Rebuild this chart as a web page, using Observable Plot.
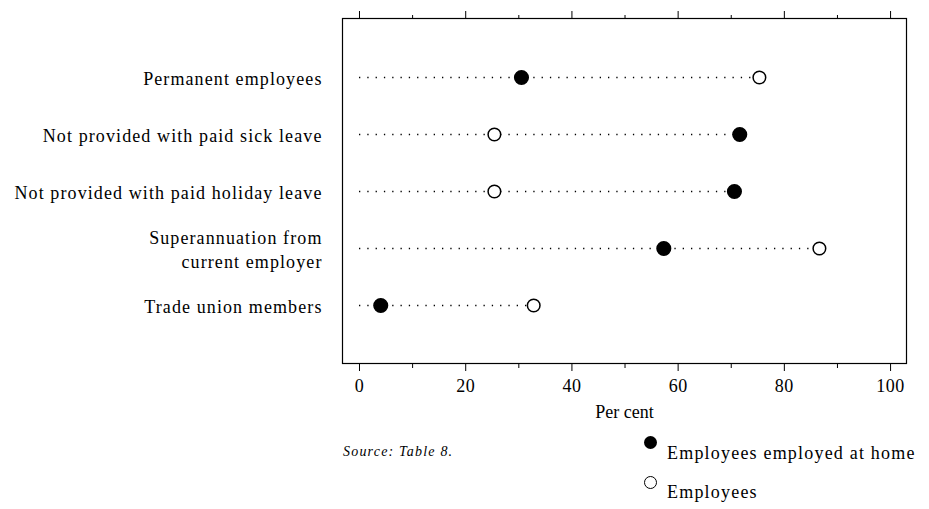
<!DOCTYPE html>
<html>
<head>
<meta charset="utf-8">
<script src="https://cdn.jsdelivr.net/npm/d3@7"></script>
<script src="https://cdn.jsdelivr.net/npm/@observablehq/plot@0.6"></script>
<style>
  html, body { margin: 0; padding: 0; background: #fff; }
  #wrap { position: relative; width: 929px; height: 509px; font-family: "Liberation Serif", "Times New Roman", serif; color: #000; overflow: hidden; }
  #source { position: absolute; left: 343px; top: 444px; font-size: 14px; line-height: 16px; font-style: italic; letter-spacing: 1.2px; }
  .legtxt { position: absolute; left: 667px; font-size: 18px; line-height: 18px; letter-spacing: 1.2px; white-space: nowrap; }
  .sym { position: absolute; left: 644px; width: 13px; height: 13px; border-radius: 50%; box-sizing: border-box; }
  #chart svg g[aria-label="y-axis tick label"] text { letter-spacing: 1.1px; }
  #chart svg g[aria-label="x-axis tick label"] text { letter-spacing: 0.5px; }
</style>
</head>
<body>
<div id="wrap">
  <div id="chart"></div>
  <div id="source">Source: Table 8.</div>
  <div class="sym" style="top:436px;background:#000"></div>
  <div class="legtxt" style="top:444px">Employees employed at home</div>
  <div class="sym" style="top:476px;border:1.5px solid #000;background:#fff"></div>
  <div class="legtxt" style="top:483px">Employees</div>
</div>
<script>
const categories = [
  "Permanent employees",
  "Not provided with paid sick leave",
  "Not provided with paid holiday leave",
  "Superannuation from\ncurrent employer",
  "Trade union members"
];
const atHome = [30.5, 71.6, 70.6, 57.3, 4.0];
const employees = [75.3, 25.4, 25.4, 86.6, 32.8];
const xTicks = [0, 20, 40, 60, 80, 100];
const xMinorTicks = [10, 30, 50, 70, 90];

const rows = categories.map((c, i) => ({
  label: c,
  home: atHome[i],
  emp: employees[i],
  max: Math.max(atHome[i], employees[i])
}));

const font = "Liberation Serif, Times New Roman, serif";

const chart = Plot.plot({
  width: 929,
  height: 509,
  marginLeft: 342,
  marginRight: 23,
  marginTop: 18,
  marginBottom: 146,
  style: { fontFamily: font, fontSize: "18px", color: "#000", background: "#fff" },
  x: { domain: [-3.2, 103.0] },
  y: { type: "point", domain: categories, padding: 1.0 },
  marks: [
    Plot.frame({ stroke: "#000", strokeWidth: 1.2 }),
    Plot.ruleY(rows, { y: "label", x1: 0, x2: "max", stroke: "#000", strokeWidth: 1.3, strokeDasharray: "1.3,7" }),
    Plot.dot(rows, { y: "label", x: "home", r: 6.8, fill: "#000", stroke: "#000" }),
    Plot.dot(rows, { y: "label", x: "emp", r: 6.3, fill: "#fff", stroke: "#000", strokeWidth: 1.5 }),
    Plot.axisY({ tickSize: 0, tickPadding: 20, fontSize: 18, label: null, lineHeight: 1.3 }),
    Plot.axisX({ ticks: xTicks, tickSize: 8, tickPadding: 8, fontSize: 18, label: "Per cent", labelAnchor: "center", labelArrow: "none", labelOffset: 54 }),
    Plot.axisX({ ticks: xMinorTicks, tickSize: 5, text: null, label: null }),
    Plot.axisX({ anchor: "top", ticks: xTicks, tickSize: 8, text: null, label: null }),
    Plot.axisX({ anchor: "top", ticks: xMinorTicks, tickSize: 4, text: null, label: null })
  ]
});
document.getElementById("chart").appendChild(chart);
</script>
</body>
</html>
